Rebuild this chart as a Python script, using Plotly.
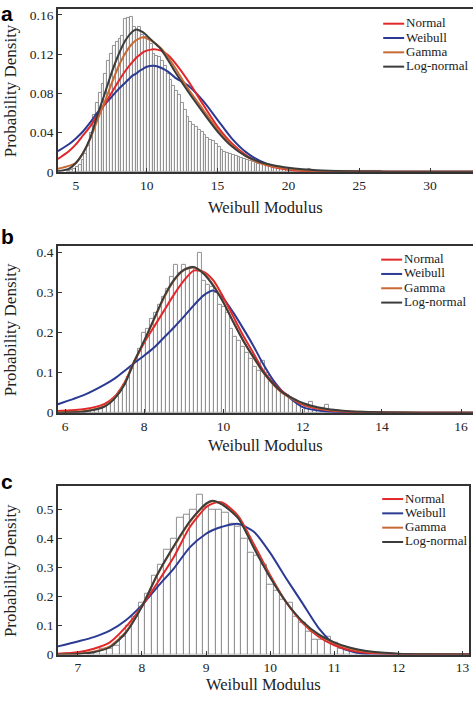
import plotly.graph_objects as go

W, H = 474, 702
SERIF = "Liberation Serif, Times New Roman, serif"
SANS = "Liberation Sans, Arial, sans-serif"

series_names = ["Normal", "Weibull", "Gamma", "Log-normal"]
series_colors = {"Normal": "#e2272b", "Weibull": "#2b3a92",
                 "Gamma": "#c86a35", "Log-normal": "#3c3c3c"}
draw_order = ["Weibull", "Normal", "Gamma", "Log-normal"]

# ---------------- panel a ----------------
a_bin_start, a_bin_width = 4.5, 0.2
a_hist = [0.001, 0.002, 0.003, 0.005, 0.007, 0.012, 0.018, 0.026, 0.040, 0.058,
          0.070, 0.080, 0.090, 0.100, 0.113, 0.120, 0.128, 0.132, 0.135, 0.138,
          0.156, 0.157, 0.158, 0.148, 0.145, 0.148, 0.140, 0.137, 0.135, 0.130,
          0.120, 0.118, 0.117, 0.113, 0.108, 0.100, 0.094, 0.088, 0.082, 0.078,
          0.070, 0.063, 0.056, 0.051, 0.048, 0.046, 0.043, 0.041, 0.038, 0.035,
          0.033, 0.031, 0.028, 0.025, 0.022, 0.020, 0.019, 0.018, 0.017, 0.016,
          0.015, 0.014, 0.013, 0.012, 0.011, 0.010, 0.009, 0.008, 0.008, 0.007,
          0.008, 0.006, 0.005, 0.005, 0.004, 0.004, 0.003, 0.003, 0.002, 0.002,
          0.002, 0.001, 0.001, 0.002, 0.002, 0.003, 0.002, 0.001, 0.001, 0.001,
          0.0005, 0.0005, 0.0005, 0.0005, 0.0005, 0.0005, 0.001, 0.001, 0.001, 0.0005,
          0.0005, 0.0005, 0.001, 0.0005, 0.0005, 0.0005, 0.0005, 0.0005, 0.0005, 0.001,
          0.0005]
a_curve_x = [3.73, 4.5, 5, 5.5, 6, 6.5, 7, 7.5, 8, 8.5, 9, 9.25, 9.5, 9.75, 10, 10.5,
             11, 11.5, 12, 13, 14, 15, 16, 17, 18, 19, 20, 21, 22, 24, 26, 28, 33.03]
a_normal = [0.013, 0.021, 0.028, 0.037, 0.046, 0.057, 0.068, 0.080, 0.092, 0.103,
            0.112, 0.116, 0.119, 0.122, 0.1235, 0.125, 0.1235, 0.119, 0.111, 0.091,
            0.068, 0.046, 0.029, 0.017, 0.009, 0.0045, 0.002, 0.0008, 0.0003, 0, 0, 0, 0]
a_weibull = [0.021, 0.028, 0.034, 0.041, 0.050, 0.060, 0.068, 0.076, 0.084, 0.091,
             0.098, 0.100, 0.103, 0.105, 0.107, 0.108, 0.106, 0.102, 0.096, 0.087,
             0.072, 0.053, 0.034, 0.020, 0.011, 0.0055, 0.0028, 0.0013, 0.0005, 0, 0, 0, 0]
a_gamma = [0.003, 0.006, 0.009, 0.019, 0.033, 0.052, 0.070, 0.089, 0.107, 0.121,
           0.131, 0.134, 0.136, 0.137, 0.136, 0.132, 0.126, 0.117, 0.106, 0.083,
           0.063, 0.043, 0.027, 0.016, 0.009, 0.005, 0.0028, 0.0014, 0.0007, 0.0002, 0, 0, 0]
a_lognormal = [0.0005, 0.003, 0.009, 0.019, 0.034, 0.057, 0.078, 0.100, 0.119, 0.134,
               0.143, 0.145, 0.144, 0.142, 0.139, 0.132, 0.125, 0.114, 0.102, 0.080,
               0.060, 0.041, 0.026, 0.016, 0.010, 0.0063, 0.004, 0.0025, 0.0015, 0.0006,
               0.0002, 0, 0]

# ---------------- panel b ----------------
b_bin_start, b_bin_width = 6.5, 0.1
b_hist = [0.002, 0.005, 0.008, 0.010, 0.012, 0.020, 0.025, 0.030, 0.040, 0.055,
          0.070, 0.090, 0.110, 0.130, 0.160, 0.200, 0.210, 0.235, 0.250, 0.270,
          0.290, 0.310, 0.340, 0.370, 0.350, 0.370, 0.360, 0.365, 0.355, 0.400,
          0.330, 0.320, 0.315, 0.300, 0.270, 0.265, 0.250, 0.210, 0.190, 0.180,
          0.165, 0.150, 0.135, 0.115, 0.105, 0.130, 0.100, 0.085, 0.070, 0.060,
          0.050, 0.045, 0.035, 0.030, 0.025, 0.020, 0.020, 0.026, 0.015, 0.010,
          0.012, 0.020, 0.008, 0.006, 0.005, 0.004, 0.003, 0.003, 0.002, 0.002,
          0.001]
b_curve_x = [5.82, 6.5, 7.0, 7.25, 7.5, 7.75, 8.0, 8.25, 8.5, 8.75, 9.0, 9.25, 9.5,
             9.75, 10.0, 10.25, 10.5, 10.75, 11.0, 11.25, 11.5, 12.0, 12.5, 13.0,
             13.5, 14.0, 15.0, 16.3]
b_normal = [0.004, 0.009, 0.022, 0.040, 0.075, 0.128, 0.175, 0.215, 0.255, 0.295,
            0.330, 0.355, 0.352, 0.330, 0.288, 0.240, 0.192, 0.150, 0.106, 0.075,
            0.052, 0.020, 0.008, 0.003, 0.001, 0, 0, 0]
b_weibull = [0.021, 0.045, 0.070, 0.085, 0.104, 0.124, 0.143, 0.163, 0.188, 0.213,
             0.240, 0.268, 0.293, 0.305, 0.285, 0.250, 0.210, 0.168, 0.122, 0.082,
             0.052, 0.014, 0.004, 0.001, 0, 0, 0, 0]
b_gamma = [0.001, 0.004, 0.017, 0.037, 0.072, 0.129, 0.179, 0.233, 0.287, 0.330,
           0.356, 0.363, 0.349, 0.318, 0.276, 0.227, 0.180, 0.139, 0.101, 0.071,
           0.048, 0.022, 0.009, 0.004, 0.0015, 0.0005, 0, 0]
b_lognormal = [0.0, 0.003, 0.015, 0.035, 0.070, 0.128, 0.180, 0.235, 0.290, 0.332,
               0.357, 0.364, 0.347, 0.316, 0.275, 0.226, 0.180, 0.140, 0.102, 0.073,
               0.050, 0.024, 0.011, 0.005, 0.002, 0.001, 0, 0]

# ---------------- panel c ----------------
c_bin_start, c_bin_width = 7.2, 0.1
c_hist = [0.005, 0.010, 0.020, 0.020, 0.030, 0.060, 0.100, 0.130, 0.180, 0.210,
          0.270, 0.310, 0.360, 0.400, 0.470, 0.480, 0.500, 0.550, 0.510, 0.500,
          0.500, 0.490, 0.450, 0.440, 0.400, 0.350, 0.340, 0.310, 0.240, 0.220,
          0.190, 0.180, 0.130, 0.110, 0.080, 0.050, 0.050, 0.060, 0.040, 0.020,
          0.015, 0.010, 0.005, 0.003]
c_curve_x = [6.69, 7.0, 7.25, 7.5, 7.75, 8.0, 8.25, 8.5, 8.75, 9.0, 9.1, 9.25, 9.5,
             9.75, 10.0, 10.25, 10.5, 10.75, 11.0, 11.25, 11.5, 12.0, 12.5, 13.1]
c_normal = [0.003, 0.008, 0.020, 0.042, 0.095, 0.165, 0.250, 0.337, 0.440, 0.507,
            0.520, 0.524, 0.478, 0.378, 0.273, 0.180, 0.110, 0.062, 0.032, 0.015,
            0.006, 0.001, 0, 0]
c_weibull = [0.028, 0.045, 0.060, 0.082, 0.118, 0.170, 0.235, 0.297, 0.370, 0.416,
             0.428, 0.440, 0.450, 0.422, 0.350, 0.262, 0.178, 0.093, 0.036, 0.012,
             0.002, 0, 0, 0]
c_gamma = [0.0005, 0.003, 0.010, 0.028, 0.078, 0.166, 0.278, 0.372, 0.457, 0.518,
           0.528, 0.517, 0.472, 0.368, 0.268, 0.181, 0.114, 0.068, 0.039, 0.021,
           0.010, 0.002, 0.0005, 0]
c_lognormal = [0.0, 0.002, 0.008, 0.025, 0.075, 0.165, 0.280, 0.375, 0.460, 0.520,
               0.530, 0.517, 0.470, 0.365, 0.265, 0.180, 0.115, 0.070, 0.042, 0.023,
               0.012, 0.003, 0.001, 0]

# tick labels
a_xticks = [5, 10, 15, 20, 25, 30]
a_yticks = [0, 0.04, 0.08, 0.12, 0.16]
a_ytext = ["0", "0.04", "0.08", "0.12", "0.16"]
b_xticks = [6, 8, 10, 12, 14, 16]
b_yticks = [0, 0.1, 0.2, 0.3, 0.4]
b_ytext = ["0", "0.1", "0.2", "0.3", "0.4"]
c_xticks = [7, 8, 9, 10, 11, 12, 13]
c_yticks = [0, 0.1, 0.2, 0.3, 0.4, 0.5]
c_ytext = ["0", "0.1", "0.2", "0.3", "0.4", "0.5"]

x_title = "Weibull Modulus"
y_title = "Probability Density"

panels = [
    dict(label="a", start=a_bin_start, width=a_bin_width, hist=a_hist, cx=a_curve_x,
         curves={"Normal": a_normal, "Weibull": a_weibull, "Gamma": a_gamma, "Log-normal": a_lognormal},
         xr=[3.73, 33.03], yr=[0, 0.166], xt=a_xticks, yt=a_yticks, ytt=a_ytext,
         px=(58, 474), py=(8, 173), right=False,
         leg_y=(23, 37.5, 52, 66.5), leg_x=(384, 405, 406), lab_y=0, xt_y=209),
    dict(label="b", start=b_bin_start, width=b_bin_width, hist=b_hist, cx=b_curve_x,
         curves={"Normal": b_normal, "Weibull": b_weibull, "Gamma": b_gamma, "Log-normal": b_lognormal},
         xr=[5.82, 16.30], yr=[0, 0.417], xt=b_xticks, yt=b_yticks, ytt=b_ytext,
         px=(58, 474), py=(248, 417), right=False,
         leg_y=(262, 276.5, 291, 305.5), leg_x=(382, 403, 404), lab_y=226, xt_y=450),
    dict(label="c", start=c_bin_start, width=c_bin_width, hist=c_hist, cx=c_curve_x,
         curves={"Normal": c_normal, "Weibull": c_weibull, "Gamma": c_gamma, "Log-normal": c_lognormal},
         xr=[6.69, 13.10], yr=[0, 0.5816], xt=c_xticks, yt=c_yticks, ytt=c_ytext,
         px=(58, 470), py=(491, 662), right=True,
         leg_y=(504.5, 519, 533.5, 548), leg_x=(383, 404, 405), lab_y=474, xt_y=692),
]

fig = go.Figure()
annotations = []
shapes = []

for i, p in enumerate(panels):
    sfx = "" if i == 0 else str(i + 1)
    xa, ya = "x" + sfx, "y" + sfx
    centers = [round(p["start"] + p["width"] * k, 2) for k in range(len(p["hist"]))]
    fig.add_trace(go.Bar(
        x=centers, y=p["hist"], width=p["width"], xaxis=xa, yaxis=ya,
        marker=dict(color="white", line=dict(color="#858585", width=0.9)),
        showlegend=False, hoverinfo="skip"))
    for name in draw_order:
        fig.add_trace(go.Scatter(
            x=p["cx"], y=p["curves"][name], mode="lines", name=name,
            xaxis=xa, yaxis=ya, showlegend=False,
            line=dict(color=series_colors[name], width=2, shape="spline", smoothing=0.7)))

    x0, x1 = p["px"]
    ytop, ybot = p["py"]
    common = dict(showline=True, linecolor="#333333", linewidth=1.5, ticks="inside",
                  ticklen=4, tickcolor="#333333", showgrid=False, zeroline=False,
                  tickfont=dict(family=SERIF, size=13.5, color="#222222"))
    fig.update_layout(**{
        "xaxis" + sfx: dict(common, domain=[x0 / W, x1 / W], range=p["xr"], anchor=ya,
                            tickvals=p["xt"], mirror=True),
        "yaxis" + sfx: dict(common, domain=[1 - ybot / H, 1 - ytop / H], range=p["yr"],
                            anchor=xa, tickvals=p["yt"], ticktext=p["ytt"],
                            mirror=p["right"]),
    })

    # legend (text + colored sample line)
    lx0, lx1, tx = p["leg_x"]
    for name, ly in zip(series_names, p["leg_y"]):
        shapes.append(dict(type="line", xref="paper", yref="paper",
                           x0=lx0 / W, x1=lx1 / W, y0=1 - ly / H, y1=1 - ly / H,
                           line=dict(color=series_colors[name], width=2)))
        annotations.append(dict(text=name, xref="paper", yref="paper", x=tx / W,
                                y=1 - (ly - 1) / H, xanchor="left", yanchor="middle",
                                showarrow=False, borderpad=0,
                                font=dict(family=SERIF, size=13, color="#1a1a1a")))

    # panel letter
    annotations.append(dict(text="<b>%s</b>" % p["label"], xref="paper", yref="paper",
                            x=0, y=1 - p["lab_y"] / H, xanchor="left", yanchor="top",
                            showarrow=False, borderpad=0,
                            font=dict(family=SANS, size=21, color="black")))
    # axis titles
    annotations.append(dict(text=x_title, xref="paper", yref="paper",
                            x=(x0 + x1) / 2 / W, y=1 - p["xt_y"] / H,
                            xanchor="center", yanchor="middle", showarrow=False,
                            font=dict(family=SERIF, size=16.5, color="#222222")))
    annotations.append(dict(text=y_title, xref="paper", yref="paper",
                            x=10 / W, y=1 - (ytop + ybot) / 2 / H, textangle=-90,
                            xanchor="center", yanchor="middle", showarrow=False,
                            font=dict(family=SERIF, size=17, color="#222222")))

fig.update_layout(width=W, height=H, margin=dict(l=0, r=0, t=0, b=0),
                  paper_bgcolor="white", plot_bgcolor="white", showlegend=False,
                  bargap=0, annotations=annotations, shapes=shapes)

fig.write_html("out.html",
               config={"displayModeBar": False},
               post_script="document.body.style.margin='0';"
                           "document.body.style.overflow='hidden';")
